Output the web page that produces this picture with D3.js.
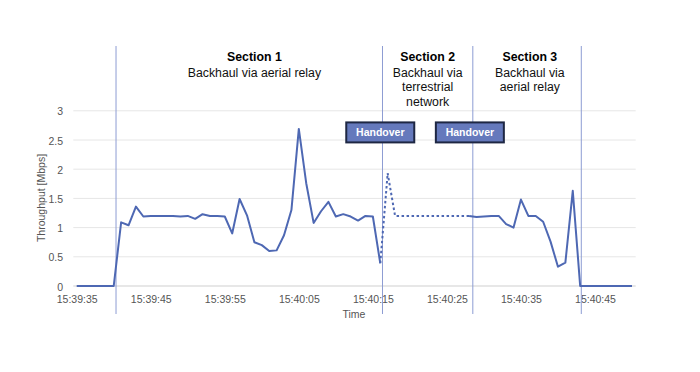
<!DOCTYPE html>
<html><head><meta charset="utf-8">
<script src="https://cdn.jsdelivr.net/npm/d3@7"></script>
<style>body{margin:0;background:#fff}svg{display:block;font-family:"Liberation Sans",Arial,sans-serif}</style>
</head><body>
<svg id="c" width="700" height="372"></svg>
<script>
// seconds after 15:39:35, one sample per second
const throughput = [0,0,0,0,0,0,1.09,1.04,1.36,1.19,1.20,1.20,1.20,1.20,1.19,1.20,1.15,1.23,1.20,1.20,
  1.19,0.90,1.49,1.21,0.75,0.70,0.60,0.61,0.87,1.30,2.69,1.76,1.08,1.28,1.44,1.19,1.23,1.19,1.12,1.20,
  1.19,0.39,1.93,1.20,1.20,1.20,1.20,1.20,1.20,1.20,1.20,1.20,1.20,1.20,1.18,1.19,1.20,1.20,1.06,1.00,
  1.48,1.20,1.20,1.10,0.76,0.33,0.40,1.63,0,0,0,0,0,0,0,0];
const dashedFrom = 41, dashedTo = 53;
const xTickValues = [0,10,20,30,40,50,60,70];
const xTickLabels = ["15:39:35","15:39:45","15:39:55","15:40:05","15:40:15","15:40:25","15:40:35","15:40:45"];
const yTickValues = [0,0.5,1,1.5,2,2.5,3];
const yTickLabels = ["0","0.5","1","1.5","2","2.5","3"];
const boundaryTimes = [5.31,41.3,53.5,68.15];
const sectionTitles = ["Section 1","Section 2","Section 3"];
const sectionLines = [["Backhaul via aerial relay"],["Backhaul via","terrestrial","network"],["Backhaul via","aerial relay"]];
const sectionCenters = [24.0, 47.4, 61.2];
const handoverTimes = [41.0, 53.1];
const handoverLabel = "Handover";

const svg = d3.select("#c");
const x = d3.scaleLinear().domain([-0.46,75.5]).range([73.3,635.7]);
const y = d3.scaleLinear().domain([0,3]).range([286,110.8]);
const lineColor = "#4e68b3", vColor = "#8d9cd3";

// gridlines
svg.append("g").selectAll("line").data(yTickValues).join("line")
  .attr("x1",x.range()[0]).attr("x2",x.range()[1])
  .attr("y1",d=>y(d)).attr("y2",d=>y(d))
  .attr("stroke",d=>d===0?"#cfcfcf":"#e6e6e6").attr("stroke-width",1);

// y axis labels
const yAxis = d3.axisLeft(y).tickValues(yTickValues).tickSize(0).tickPadding(0)
  .tickFormat((d,i)=>yTickLabels[i]);
svg.append("g").attr("transform","translate(63,0.8)").call(yAxis)
  .call(g=>g.select(".domain").remove())
  .call(g=>g.selectAll("text").attr("fill","#555").attr("font-size","10.5px").attr("font-family","Liberation Sans, Arial, sans-serif"));

// x axis labels
const xAxis = d3.axisBottom(x).tickValues(xTickValues).tickSize(0).tickPadding(0)
  .tickFormat((d,i)=>xTickLabels[i]);
svg.append("g").attr("transform","translate(0,295.5)").call(xAxis)
  .call(g=>g.select(".domain").remove())
  .call(g=>g.selectAll("text").attr("fill","#555").attr("font-size","10.5px").attr("font-family","Liberation Sans, Arial, sans-serif"));

// axis titles
svg.append("text").attr("x",354).attr("y",318).attr("text-anchor","middle")
  .attr("font-size","10.5px").attr("fill","#555").text("Time");
svg.append("text").attr("transform","translate(45,198) rotate(-90)").attr("text-anchor","middle")
  .attr("font-size","10.5px").attr("fill","#555").text("Throughput [Mbps]");

// boundary lines
svg.append("g").selectAll("line").data(boundaryTimes).join("line")
  .attr("x1",d=>x(d)).attr("x2",d=>x(d)).attr("y1",46).attr("y2",314)
  .attr("stroke",vColor).attr("stroke-width",1);

// data lines
const line = d3.line().x(d=>x(d.t)).y(d=>y(d.v));
const pts = throughput.map((v,t)=>({t,v}));
svg.append("path").datum(pts.slice(0,dashedFrom+1)).attr("d",line)
  .attr("fill","none").attr("stroke",lineColor).attr("stroke-width",2).attr("stroke-linejoin","round");
svg.append("path").datum(pts.slice(dashedFrom,dashedTo+1)).attr("d",line)
  .attr("fill","none").attr("stroke",lineColor).attr("stroke-width",2).attr("stroke-dasharray","2.5,2.5");
svg.append("path").datum(pts.slice(dashedTo)).attr("d",line)
  .attr("fill","none").attr("stroke",lineColor).attr("stroke-width",2).attr("stroke-linejoin","round");

// section labels
sectionTitles.forEach((s,i)=>{
  const cx = x(sectionCenters[i]);
  svg.append("text").attr("x",cx).attr("y",61).attr("text-anchor","middle")
    .attr("font-size","12.3px").attr("font-weight","bold").attr("fill","#000").text(s);
  sectionLines[i].forEach((l,j)=>{
    svg.append("text").attr("x",cx).attr("y",76.5+j*14.7).attr("text-anchor","middle")
      .attr("font-size","12.3px").attr("fill","#111").text(l);
  });
});

// handover boxes
const hb = svg.append("g").selectAll("g").data(handoverTimes).join("g")
  .attr("transform",d=>`translate(${x(d)},${y(2.63)})`);
hb.append("rect").attr("x",-34).attr("y",-10).attr("width",68).attr("height",20)
  .attr("fill","#6579bc").attr("stroke","#1e2743").attr("stroke-width",2);
hb.append("text").attr("y",3.8).attr("text-anchor","middle").attr("fill","#fff")
  .attr("font-size","10.5px").attr("font-weight","bold").text(handoverLabel);
</script>
</body></html>
